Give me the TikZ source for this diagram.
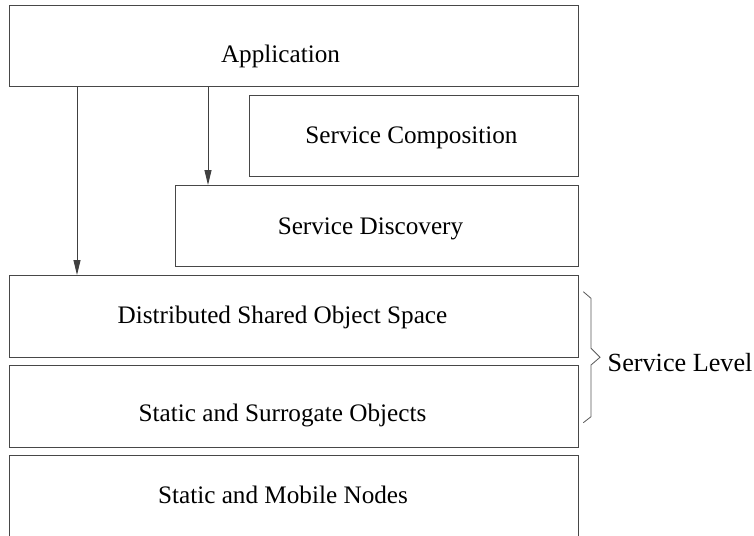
\documentclass[tikz,border=0pt]{standalone}
\usepackage{fontspec}
\setmainfont{Liberation Serif}
\usetikzlibrary{arrows.meta}
\tikzset{
  layer/.style={draw=black!72, line width=0.9pt, rectangle, inner sep=0pt, outer sep=0pt},
  layertext/.style={anchor=base, inner sep=0pt, font=\fontsize{25.2}{30}\selectfont},
  callarrow/.style={draw=black!75, line width=0.9pt, -{Triangle[length=15pt,width=7pt]}},
  bracket/.style={draw=black!65, line width=0.8pt, line join=miter}
}
\begin{document}
\begin{tikzpicture}[x=1pt,y=-1pt]
  \useasboundingbox (0,0) rectangle (754,535);
  \clip (0,0) rectangle (754,535);

  % layer boxes
  \node[layer, minimum width=569pt, minimum height=81.7pt] (app)  at (293.5,45.85) {};
  \node[layer, minimum width=329pt, minimum height=81.7pt] (comp) at (413.5,135.85) {};
  \node[layer, minimum width=403pt, minimum height=81.7pt] (disc) at (376.5,225.85) {};
  \node[layer, minimum width=569pt, minimum height=82pt]   (dsos) at (293.5,316) {};
  \node[layer, minimum width=569pt, minimum height=82pt]   (sso)  at (293.5,406) {};
  \node[layer, minimum width=569pt, minimum height=90pt]   (smn)  at (293.5,500) {};

  % layer names
  \node[layertext] (tapp)  at (280.5,62.5)  {Application};
  \node[layertext] (tcomp) at (411.5,143.3) {Service Composition};
  \node[layertext] (tdisc) at (370.5,234.3) {Service Discovery};
  \node[layertext] (tdsos) at (282.5,323.3) {Distributed Shared Object Space};
  \node[layertext] (tsso)  at (282.5,421.7) {Static and Surrogate Objects};
  \node[layertext] (tsmn)  at (283,503.3)   {Static and Mobile Nodes};

  % calls from the application
  \coordinate (left) at (77,0);
  \coordinate (mid)  at (208,0);
  \draw[callarrow] (app.south -| left) -- (dsos.north -| left);
  \draw[callarrow] (app.south -| mid)  -- (disc.north -| mid);

  % service level brace
  \coordinate (btop) at (583.3,291.7);
  \coordinate (bbot) at (583.3,422.7);
  \coordinate (btip) at (600,357.3);
  \draw[bracket] (btop) -- (591,298.3) -- (591,348.3) -- (btip)
                 -- (591,365) -- (591,416.7) -- (bbot);
  \node[anchor=base west, inner sep=0pt, font=\fontsize{26.2}{30}\selectfont]
       (level) at (607.5,371.7) {Service Level};
\end{tikzpicture}
\end{document}
